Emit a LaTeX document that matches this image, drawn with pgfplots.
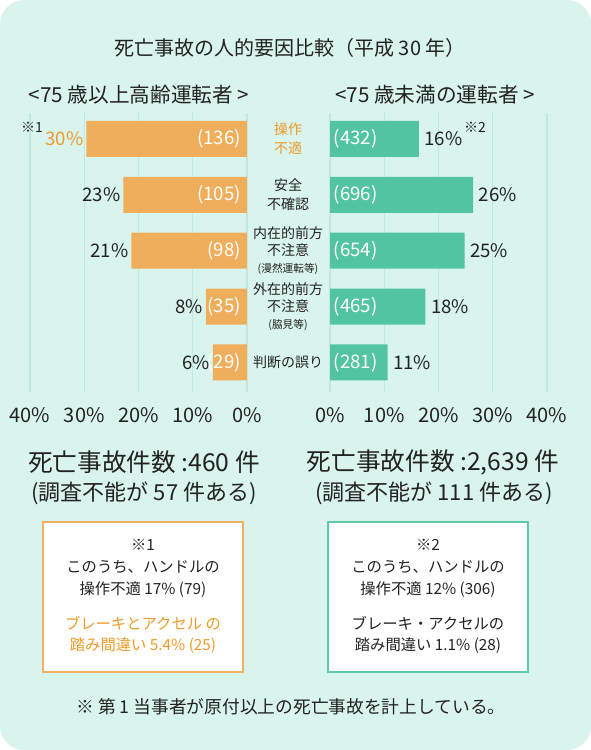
\documentclass[border=0pt]{standalone}
\usepackage{pgfplots}
\pgfplotsset{compat=1.18}
\usepackage{pgfplotstable}
\usepackage{fontspec}
\setmainfont{Noto Sans CJK JP}

\definecolor{bg}{HTML}{D9F4ED}
\definecolor{gridc}{HTML}{C4E7DD}
\definecolor{barOr}{HTML}{EFAE5B}
\definecolor{barGr}{HTML}{52C5A0}
\definecolor{txtOr}{HTML}{EE9A2A}
\definecolor{boxOr}{HTML}{F2B062}
\definecolor{boxGr}{HTML}{5FC8A8}
\definecolor{txt}{HTML}{222222}

% 75 years and older
\pgfplotstableread{
row base pct lab cnt
1 0 29.6 \textcolor{txtOr}{30\%} 136
2 0 22.8 23\% 105
3 0 21.3 21\% 98
4 0 7.6 8\% 35
5 0 6.3 6\% 29
}\oldtab

% under 75
\pgfplotstableread{
row base pct lab cnt
1 0 16.4 16\% 432
2 0 26.4 26\% 696
3 0 24.8 25\% 654
4 0 17.6 18\% 465
5 0 10.6 11\% 281
}\youngtab

\tikzset{lbl/.style={font=\fontsize{14}{16}\selectfont, inner sep=2pt}}

\pgfplotsset{
  halfaxis/.style={
    at={#1}, anchor=north west,
    scale only axis, width=162.75pt, height=209.25pt,
    xmin=0, xmax=40,
    ymin=0.535, ymax=5.53, y dir=reverse,
    axis line style={draw=none},
    xtick={0,10,...,40},
    major tick length=0pt,
    xmajorgrids, grid style={gridc, line width=1pt},
    xticklabel={\pgfmathprintnumber{\tick}\%},
    xticklabel style={font=\fontsize{15}{18}\selectfont, text=txt, yshift=-8pt},
    /pgf/number format/assume math mode=true,
    clip=false,
  },
}

\begin{document}
\begin{tikzpicture}
\begin{scope}[x=0.75pt, y=-0.75pt]
  \fill[white] (0,0) rectangle (591,750);
  \fill[bg, rounded corners=18] (0,0) rectangle (591,750);
\end{scope}

\begin{axis}[halfaxis={(22.5pt,-84.75pt)}, x dir=reverse, ytick=\empty]
  \addplot[xbar, bar width=27pt, fill=barOr, draw=none,
    nodes near coords={\pgfplotspointmeta}, point meta=explicit symbolic,
    every node near coord/.append style={lbl, anchor=east, text=txt}]
    table[x=pct, y=row, meta=lab] \oldtab;
  \addplot[draw=none, mark=none, forget plot,
    nodes near coords={(\pgfplotspointmeta)}, point meta=explicit symbolic,
    every node near coord/.append style={lbl, anchor=east, xshift=-2.5pt, text=white}]
    table[x=base, y=row, meta=cnt] \oldtab;
\end{axis}

\begin{axis}[halfaxis={(247.5pt,-84.75pt)},
    ytick={1,2,3,4,5},
    yticklabels={
      {\textcolor{txtOr}{操作}\\[1.5pt]\textcolor{txtOr}{不適}},
      {安全\\[1.5pt]不確認},
      {内在的前方\\不注意\\{\fontsize{8}{9}\selectfont (漫然運転等)}},
      {外在的前方\\不注意\\{\fontsize{8}{9}\selectfont (脇見等)}},
      {判断の誤り}},
    yticklabel style={anchor=center, align=center, xshift=-31.5pt, text=txt,
      font=\fontsize{10.5}{12.5}\selectfont}]
  \addplot[xbar, bar width=27pt, fill=barGr, draw=none,
    nodes near coords={\pgfplotspointmeta}, point meta=explicit symbolic,
    every node near coord/.append style={lbl, anchor=west, xshift=2pt, text=txt}]
    table[x=pct, y=row, meta=lab] \youngtab;
  \addplot[draw=none, mark=none, forget plot,
    nodes near coords={(\pgfplotspointmeta)}, point meta=explicit symbolic,
    every node near coord/.append style={lbl, anchor=west, xshift=0.7pt, text=white}]
    table[x=base, y=row, meta=cnt] \youngtab;
\end{axis}

\begin{scope}[x=0.75pt, y=-0.75pt, every node/.style={text=txt, inner sep=0pt}]
  \node[font=\fontsize{15}{18}\selectfont] at (290,48) {死亡事故の人的要因比較（平成 30 年）};
  \node[font=\fontsize{15.5}{18}\selectfont] at (139,95) {<75 歳以上高齢運転者 >};
  \node[font=\fontsize{15.5}{18}\selectfont] at (435,95) {<75 歳未満の運転者 >};
  \node[font=\fontsize{10.5}{12}\selectfont] at (32,127) {※1};
  \node[font=\fontsize{10.5}{12}\selectfont] at (475,127) {※2};

  \node[font=\fontsize{18.5}{22}\selectfont] at (144,462) {死亡事故件数 :460 件};
  \node[font=\fontsize{18.5}{22}\selectfont] at (433,462) {死亡事故件数 :2,639 件};
  \node[font=\fontsize{16.5}{19}\selectfont] at (144,493) {(調査不能が 57 件ある)};
  \node[font=\fontsize{16.5}{19}\selectfont] at (434,493) {(調査不能が 111 件ある)};

  \draw[boxOr, fill=white, line width=1.2pt] (43,522) rectangle (243,672);
  \draw[boxGr, fill=white, line width=1.2pt] (328,522) rectangle (528,672);
  \begin{scope}[every node/.append style={font=\fontsize{11.5}{14}\selectfont}]
    \node at (143,545) {※1};
    \node at (143,567) {このうち、ハンドルの};
    \node at (143,590) {操作不適 17\% (79)};
    \node[text=txtOr] at (143,623) {ブレーキとアクセル の};
    \node[text=txtOr] at (143,646) {踏み間違い 5.4\% (25)};
    \node at (428,545) {※2};
    \node at (428,567) {このうち、ハンドルの};
    \node at (428,590) {操作不適 12\% (306)};
    \node at (428,623) {ブレーキ・アクセルの};
    \node at (428,646) {踏み間違い 1.1\% (28)};
  \end{scope}

  \node[font=\fontsize{13.3}{16}\selectfont] at (291,707) {※ 第 1 当事者が原付以上の死亡事故を計上している。};
\end{scope}

\pgfresetboundingbox
\path (0pt,0pt) rectangle (443.25pt,-562.5pt);
\end{tikzpicture}
\end{document}
